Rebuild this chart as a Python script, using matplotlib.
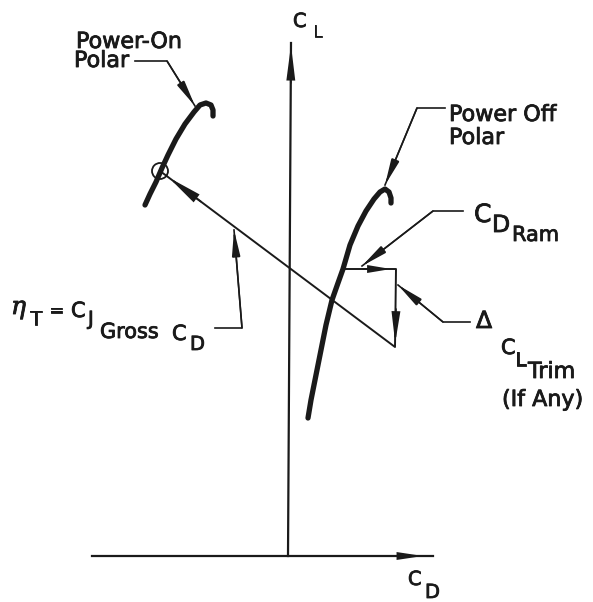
import matplotlib
matplotlib.use("Agg")
import matplotlib.pyplot as plt
import matplotlib.patheffects as pe
from matplotlib.patches import FancyArrowPatch, Circle

# diagram units: 1 unit ~ 1 px, origin at axis crossing (C_D right, C_L up)
power_on_cd = [-143, -138, -132, -126, -120, -112, -103, -94, -88, -82, -77, -75, -75]
power_on_cl = [351, 362, 374, 388, 401, 417, 432, 444, 451, 453, 451, 446, 440]

power_off_cd = [20, 23, 27, 32, 38, 44, 50, 55, 62, 70, 78, 86, 92, 97, 101, 103, 103]
power_off_cl = [138, 156, 176, 201, 231, 256, 273, 287, 311, 330, 345, 357, 364, 367, 364, 358, 353]

# operating point -> + C_D ram -> - delta C_L trim -> power-on point
trim_cd = [55, 108, 107, -128]
trim_cl = [287, 287, 209, 385]

cd_axis = [-196, 145]
cl_axis_top = 513

# leader lines (label end, elbow, tip)
lead_on = ([-153, -121, -93], [495, 495, 450])
lead_off = ([157, 129, 97], [448, 448, 371])
lead_ram = ([175, 145, 74], [345, 345, 290])
lead_trim = ([182, 155, 110], [234, 234, 271])
lead_eta = ([-73, -46, -54], [228, 228, 326])

X0, Y0 = 288, 556  # pixel position of the origin, used for text placement
INK = "#1a1a1a"


def head(ax, tail, tip, hl, hw, lw=1.2):
    a = FancyArrowPatch(tail, tip, arrowstyle=f"-|>,head_length={hl*0.72},head_width={hw*0.36}",
                        mutation_scale=1, color=INK, lw=lw, shrinkA=0, shrinkB=0,
                        joinstyle="miter")
    ax.add_patch(a)


def txt(ax, x, y, s, size, **kw):
    ax.text(x - X0, Y0 - y, s, fontsize=size, ha="left", va="baseline", color=INK,
            path_effects=[pe.withStroke(linewidth=0.6, foreground=INK)], **kw)


def main():
    fig = plt.figure(figsize=(5.93, 6.02), dpi=100)
    ax = fig.add_axes([0, 0, 1, 1])
    ax.set_xlim(-X0, 593 - X0)
    ax.set_ylim(Y0 - 602, Y0)
    ax.axis("off")

    # axes
    ax.plot(cd_axis, [0, 0], color=INK, lw=1.6)
    head(ax, (cd_axis[1] - 30, 0), (cd_axis[1] - 10, 0), 20, 6)
    ax.plot([0, 3], [0, cl_axis_top], color=INK, lw=1.6)
    head(ax, (2.8, cl_axis_top - 40), (3, cl_axis_top - 2), 28, 7)

    # polars
    ax.plot(power_on_cd, power_on_cl, color=INK, lw=3.8, solid_capstyle="round", solid_joinstyle="round")
    ax.plot(power_off_cd, power_off_cl, color=INK, lw=3.8, solid_capstyle="round", solid_joinstyle="round")
    ax.add_patch(Circle((trim_cd[3], trim_cl[3]), 8, fill=False, lw=1.3, color=INK))

    # ram drag, trim and efficiency construction
    ax.plot(trim_cd, trim_cl, color=INK, lw=1.4)
    head(ax, (trim_cd[0] + 20, trim_cl[0]), (trim_cd[1] - 5, trim_cl[1]), 18, 6)
    head(ax, (trim_cd[1], trim_cl[1] - 40), (trim_cd[2] + 0.2, trim_cl[2] + 4), 25, 7)
    dx, dy = trim_cd[3] - trim_cd[2], trim_cl[3] - trim_cl[2]
    n = (dx ** 2 + dy ** 2) ** 0.5
    tip = (trim_cd[3] - dx / n * 11, trim_cl[3] - dy / n * 11)
    head(ax, (tip[0] - dx / n * 40, tip[1] - dy / n * 40), tip, 28, 8)

    # leaders
    for cd, cl in [lead_on, lead_off, lead_ram, lead_trim, lead_eta]:
        ax.plot(cd, cl, color=INK, lw=1.2)
        head(ax, (cd[1], cl[1]), (cd[2], cl[2]), 22, 7, lw=1.1)

    # labels
    txt(ax, 293, 27, "C", 14)
    txt(ax, 313, 37, "L", 12)
    txt(ax, 408, 585, "C", 14)
    txt(ax, 425, 598, "D", 14)

    txt(ax, 76, 48, "Power-On", 16)
    txt(ax, 74, 67, "Polar", 16)
    txt(ax, 449, 121, "Power Off", 16)
    txt(ax, 449, 144, "Polar", 16)

    txt(ax, 474, 222, "C", 18)
    txt(ax, 492, 232, "D", 17)
    txt(ax, 512, 241, "Ram", 15)

    txt(ax, 476, 328, "Δ", 17)
    txt(ax, 501, 354, "C", 15)
    txt(ax, 515, 366, "L", 14)
    txt(ax, 528, 378, "Trim", 16)
    txt(ax, 502, 406, "(If Any)", 16)

    txt(ax, 11, 314, "η", 18, family="DejaVu Serif", style="italic")
    txt(ax, 30, 325, "T", 14)
    txt(ax, 49, 316, "=", 13)
    txt(ax, 71, 317, "C", 15)
    txt(ax, 88, 325, "J", 14)
    txt(ax, 100, 338, "Gross", 15)
    txt(ax, 172, 340, "C", 15)
    txt(ax, 190, 350, "D", 14)

    fig.savefig("out.png", dpi=100)
    plt.close(fig)


if __name__ == "__main__":
    main()
